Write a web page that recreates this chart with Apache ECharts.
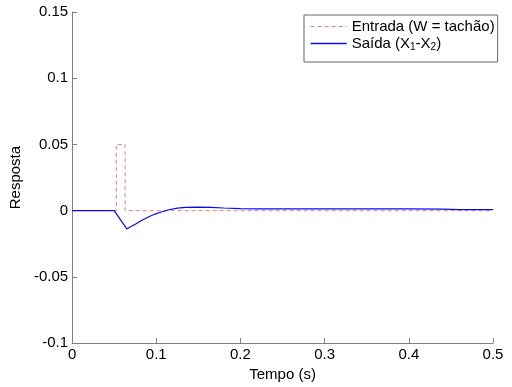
<!DOCTYPE html>
<html><head><meta charset="utf-8">
<script src="https://cdn.jsdelivr.net/npm/echarts@6/dist/echarts.min.js"></script>
<style>html,body{margin:0;padding:0;background:#fff}#c{width:512px;height:387px}</style>
</head><body><div id="c"></div>
<script>
var xTicks = [0, 0.1, 0.2, 0.3, 0.4, 0.5];
var yTicks = [-0.1, -0.05, 0, 0.05, 0.1, 0.15];
var entradaT = [0, 0.0525, 0.0525, 0.063, 0.063, 0.5];
var entradaV = [0, 0, 0.05, 0.05, 0, 0];
var saidaT = [0, 0.05, 0.0515, 0.065, 0.07, 0.075, 0.083, 0.09, 0.095, 0.1, 0.106, 0.115, 0.125, 0.135, 0.15, 0.165, 0.18, 0.2, 0.22, 0.25, 0.3, 0.35, 0.4, 0.44, 0.46, 0.5];
var saidaV = [0, 0, 0, -0.0138, -0.012, -0.0102, -0.0073, -0.005, -0.0035, -0.0022, -0.001, 0.0007, 0.0019, 0.0025, 0.0027, 0.0025, 0.002, 0.0016, 0.0014, 0.0013, 0.0014, 0.0014, 0.0013, 0.0012, 0.0008, 0.0008];
var seriesNames = ['Entrada (W = tachão)', 'Saída (X1-X2)'];

function pairs(t, v){ return t.map(function(x,i){return [x, v[i]];}); }
var font = 'Liberation Sans, Arial, sans-serif';
var redC = '#e08080', blueC = '#0a0af5';
var chart = echarts.init(document.getElementById('c'));
chart.setOption({
  animation: false,
  grid: {left: 70, right: 19, top: 12, bottom: 42},
  xAxis: {
    type: 'value', min: xTicks[0], max: xTicks[xTicks.length-1], interval: 0.1,
    name: 'Tempo (s)', nameLocation: 'middle', nameGap: 16,
    nameTextStyle: {color: '#000', fontSize: 15, fontFamily: font},
    axisLine: {onZero: false, lineStyle: {color: '#808080', width: 1}},
    axisTick: {inside: true, length: 5, lineStyle: {color: '#808080'}},
    axisLabel: {color: '#000', fontSize: 15, fontFamily: font, margin: 4,
      formatter: function(v){ return String(Math.round(v*100)/100); }},
    splitLine: {show: false}
  },
  yAxis: {
    type: 'value', min: yTicks[0], max: yTicks[yTicks.length-1], interval: 0.05,
    name: 'Resposta', nameLocation: 'middle', nameGap: 40,
    nameTextStyle: {color: '#000', fontSize: 15, fontFamily: font},
    axisLine: {onZero: false, lineStyle: {color: '#808080', width: 1}},
    axisTick: {inside: true, length: 5, lineStyle: {color: '#808080'}},
    axisLabel: {color: '#000', fontSize: 15, fontFamily: font, margin: 4,
      formatter: function(v){ return String(Math.round(v*1000)/1000); }},
    splitLine: {show: false}
  },
  legend: {
    left: 304, top: 15, orient: 'vertical',
    backgroundColor: '#fff', borderColor: '#666', borderWidth: 1, borderRadius: 0,
    padding: [4, 3, 10, 6], itemGap: 2, itemWidth: 36, itemHeight: 10,
    itemStyle: {opacity: 0},
    textStyle: {color: '#000', fontSize: 15, fontFamily: font,
      rich: {sub: {fontSize: 10, verticalAlign: 'bottom', padding: [7,0,0,0], fontFamily: font}}},
    formatter: function(n){
      if (n === seriesNames[1]) return 'Saída (X{sub|1}-X{sub|2})';
      return n;
    },
    data: [
      {name: seriesNames[0], lineStyle: {color: redC, width: 1, type: [4, 3]}},
      {name: seriesNames[1], lineStyle: {color: blueC, width: 1.3}}
    ]
  },
  series: [
    {name: seriesNames[0], type: 'line', data: pairs(entradaT, entradaV), symbol: 'none',
     lineStyle: {color: redC, width: 1, type: [4, 3]}, itemStyle: {color: redC}, z: 2},
    {name: seriesNames[1], type: 'line', data: pairs(saidaT, saidaV), symbol: 'none', smooth: false,
     lineStyle: {color: blueC, width: 1.2}, itemStyle: {color: blueC}, z: 3}
  ]
});
</script></body></html>
